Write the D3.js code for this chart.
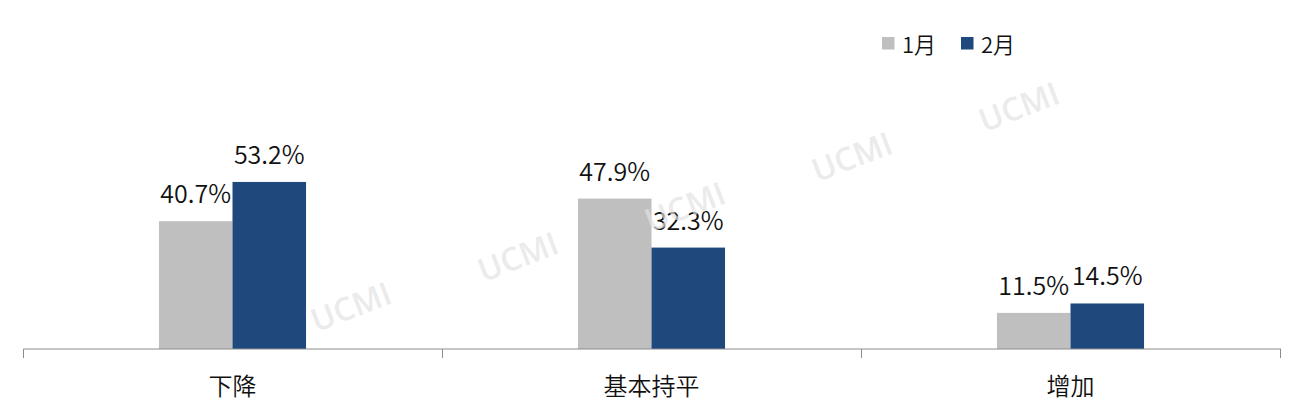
<!DOCTYPE html>
<html>
<head>
<meta charset="utf-8">
<script src="https://cdn.jsdelivr.net/npm/d3@7/dist/d3.min.js"></script>
<style>
  html, body { margin: 0; padding: 0; background: #fff; }
  svg { display: block; }
</style>
</head>
<body>
<svg id="chart" width="1304" height="417"></svg>
<script>
const categories = ["下降", "基本持平", "增加"];
const seriesNames = ["1月", "2月"];
const janValues = [40.7, 47.9, 11.5];
const febValues = [53.2, 32.3, 14.5];
const valueLabels = ["40.7%", "47.9%", "11.5%", "53.2%", "32.3%", "14.5%"];
const seriesColors = ["#bfbfbf", "#1f497d"];
const watermarkText = "UCMI";

const W = 1304, H = 417;
const plot = { left: 23, right: 1280, top: 35, bottom: 349 };
const svg = d3.select("#chart");
const latin = "'Noto Sans CJK SC', 'Noto Sans', sans-serif";

const series = [janValues, febValues];

const x0 = d3.scaleBand().domain(categories).range([plot.left, plot.right]).padding(0);
const groupW = x0.bandwidth() * 0.351;
const x1 = d3.scaleBand().domain(seriesNames)
  .range([(x0.bandwidth() - groupW) / 2, (x0.bandwidth() + groupW) / 2]).padding(0);
const y = d3.scaleLinear().domain([0, 100]).range([plot.bottom, plot.top]);

// bars
seriesNames.forEach((s, si) => {
  const g = svg.append("g");
  g.selectAll("rect").data(categories).join("rect")
    .attr("x", c => x0(c) + x1(s))
    .attr("y", (c, i) => y(series[si][i]))
    .attr("width", x1.bandwidth())
    .attr("height", (c, i) => y(0) - y(series[si][i]))
    .attr("fill", seriesColors[si]);
  g.selectAll("text").data(categories).join("text")
    .attr("x", c => x0(c) + x1(s) + x1.bandwidth() / 2)
    .attr("y", (c, i) => y(series[si][i]) - 18)
    .attr("text-anchor", "middle")
    .attr("font-family", latin)
    .attr("font-weight", 350)
    .attr("font-size", 25)
    .attr("fill", "#111")
    .text((c, i) => valueLabels[si * categories.length + i]);
});

// axis
const xAxis = d3.axisBottom(x0).tickSize(0).tickPadding(29);
const axG = svg.append("g").attr("transform", `translate(0,${plot.bottom})`).call(xAxis);
axG.select(".domain").attr("stroke", "#8c8c8c").attr("stroke-width", 1)
  .attr("d", `M${plot.left + 0.5},0H${plot.right + 1}`);
axG.selectAll(".tick text")
  .attr("font-family", "'Noto Sans CJK SC', sans-serif")
  .attr("font-weight", 350)
  .attr("font-size", 24)
  .attr("fill", "#111")
  .attr("dy", "0.71em");
const edges = categories.map(c => x0(c)).concat([x0(categories[categories.length - 1]) + x0.bandwidth()]);
axG.selectAll("line.edge").data(edges).join("line")
  .attr("class", "edge")
  .attr("x1", d => Math.round(d) + 0.5).attr("x2", d => Math.round(d) + 0.5)
  .attr("y1", 0).attr("y2", 9)
  .attr("stroke", "#8c8c8c");

// legend
const legend = svg.append("g").attr("transform", "translate(882,37)");
const legX = [0, 79];
seriesNames.forEach((s, i) => {
  const lg = legend.append("g").attr("transform", `translate(${legX[i]},0)`);
  lg.append("rect").attr("width", 12.5).attr("height", 12.5).attr("fill", seriesColors[i]);
  lg.append("text").attr("x", 20).attr("y", 16)
    .attr("font-family", "'Noto Sans CJK SC', sans-serif")
    .attr("font-weight", 350)
    .attr("font-size", 22).attr("fill", "#111").text(s);
});

// watermarks
const wm = svg.append("g").attr("pointer-events", "none");
const wmStart = [351, 307], wmStep = [167, -50];
d3.range(5).forEach(k => {
  wm.append("text")
    .attr("transform", `translate(${wmStart[0] + k * wmStep[0]},${wmStart[1] + k * wmStep[1]}) rotate(-21)`)
    .attr("text-anchor", "middle")
    .attr("dy", "0.35em")
    .attr("font-family", "'Open Sans', sans-serif")
    .attr("font-weight", 600)
    .attr("font-size", 32)
    .attr("fill", "#e2e2e2")
    .attr("fill-opacity", 0.7)
    .text(watermarkText);
});
</script>
</body>
</html>
